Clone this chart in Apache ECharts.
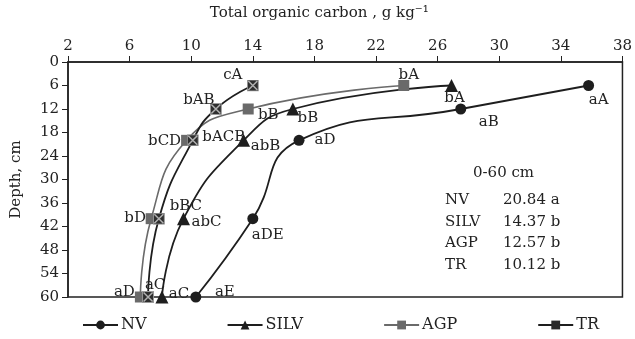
<!DOCTYPE html>
<html>
<head>
<meta charset="utf-8">
<script src="https://cdn.jsdelivr.net/npm/echarts@6/dist/echarts.min.js"></script>
<style>
html,body{margin:0;padding:0;background:#fff;}
#c{width:635px;height:339px;}
</style>
</head>
<body>
<div id="c"></div>
<script>
// ---- data ----
var depths = [6, 12, 20, 40, 60];
var seriesNames = ['NV', 'SILV', 'AGP', 'TR'];
var nvValues   = [35.8, 27.5, 17.0, 14.0, 10.3];
var silvValues = [26.9, 16.6, 13.4, 9.5, 8.1];
var agpValues  = [23.8, 13.7, 9.7, 7.4, 6.7];
var trValues   = [14.0, 11.6, 10.1, 7.9, 7.2];
var nvLabels   = ['aA', 'aB', 'aD', 'aDE', 'aE'];
var silvLabels = ['bA', 'bB', 'abB', 'abC', 'aC'];
var agpLabels  = ['bA', 'bB', 'bCD', 'bD', 'aD'];
var trLabels   = ['cA', 'bAB', 'bACB', 'bBC', 'aC'];
var xTicks = [2, 6, 10, 14, 18, 22, 26, 30, 34, 38];
var yTicks = [0, 6, 12, 18, 24, 30, 36, 42, 48, 54, 60];
var boxTitle = '0-60 cm';
var boxNames = ['NV', 'SILV', 'AGP', 'TR'];
var boxValues = ['20.84 a', '14.37 b', '12.57 b', '10.12 b'];

// ---- label placement (offsets of label centre from point, px) ----
var nvOff   = [[10, 15], [28, 13], [26, 0], [15, 16], [29, -5]];
var silvOff = [[3, 13], [15, 9], [22, 6], [23, 3], [17, -3]];
var agpOff  = [[5, -10], [20, 6], [-22, 1], [-16, -1], [-16, -5]];
var trOff   = [[-20, -10], [-17, -9], [31, -3], [27, -13], [7, -12]];

var FONT = 'DejaVu Serif';
var trSym = 'image://data:image/svg+xml;utf8,' + encodeURIComponent(
  "<svg xmlns='http://www.w3.org/2000/svg' width='24' height='24'>" +
  "<rect x='1' y='1' width='22' height='22' fill='#2e2e2e' stroke='#9a9a9a' stroke-width='2'/>" +
  "<path d='M3 3L21 21M21 3L3 21' stroke='#b0b0b0' stroke-width='3'/></svg>");

function build(vals, labels, offs, perSym) {
  return vals.map(function (v, i) {
    var o = {
      value: [v, depths[i]],
      label: {
        show: true, formatter: labels[i], position: 'inside',
        offset: offs[i], color: '#222', fontFamily: FONT, fontSize: 15
      }
    };
    if (perSym) { o.symbol = perSym; }
    return o;
  });
}

var chart = echarts.init(document.getElementById('c'), null, {renderer: 'canvas'});
var lineCommon = {type: 'line', smooth: 0.5, z: 2};
var option = {
  animation: false,
  backgroundColor: '#fff',
  textStyle: {fontFamily: FONT},
  grid: {left: 68, right: 12, top: 62, bottom: 42, show: true, borderColor: '#222', borderWidth: 1.5, backgroundColor: 'transparent'},
  xAxis: {
    type: 'value', position: 'top', min: xTicks[0], max: xTicks[xTicks.length - 1],
    interval: xTicks[1] - xTicks[0],
    name: 'Total organic carbon , g kg\u207B\u00B9', nameLocation: 'middle', nameGap: 41,
    nameTextStyle: {color: '#222', fontFamily: FONT, fontSize: 15, padding: [0, 52, 0, 0]},
    axisLine: {lineStyle: {color: '#222', width: 1.5}},
    axisTick: {show: true, length: 6, lineStyle: {color: '#222'}},
    axisLabel: {color: '#222', fontFamily: FONT, fontSize: 15, margin: 8},
    splitLine: {show: false}
  },
  yAxis: {
    type: 'value', inverse: true, min: yTicks[0], max: yTicks[yTicks.length - 1],
    interval: yTicks[1] - yTicks[0],
    name: 'Depth, cm', nameLocation: 'middle', nameGap: 44, nameRotate: 90,
    nameTextStyle: {color: '#222', fontFamily: FONT, fontSize: 15},
    axisLine: {lineStyle: {color: '#222', width: 1.5}},
    axisTick: {show: true, length: 6, lineStyle: {color: '#222'}},
    axisLabel: {color: '#222', fontFamily: FONT, fontSize: 15, margin: 9},
    splitLine: {show: false}
  },
  legend: {
    bottom: 1, left: 77, itemGap: 80, itemWidth: 35, itemHeight: 11,
    data: seriesNames,
    textStyle: {color: '#222', fontFamily: FONT, fontSize: 16, padding: [0, 0, 0, -2]}
  },
  series: [
    Object.assign({}, lineCommon, {name: 'NV', data: build(nvValues, nvLabels, nvOff),
      symbol: 'circle', symbolSize: 11, lineStyle: {color: '#1e1e1e', width: 1.8}, itemStyle: {color: '#1e1e1e'}}),
    Object.assign({}, lineCommon, {name: 'SILV', data: build(silvValues, silvLabels, silvOff),
      symbol: 'triangle', symbolSize: 13, lineStyle: {color: '#1e1e1e', width: 1.8}, itemStyle: {color: '#1e1e1e'}}),
    Object.assign({}, lineCommon, {name: 'AGP', data: build(agpValues, agpLabels, agpOff),
      symbol: 'rect', symbolSize: 11, lineStyle: {color: '#6a6a6a', width: 1.6}, itemStyle: {color: '#6a6a6a'}}),
    Object.assign({}, lineCommon, {name: 'TR', data: build(trValues, trLabels, trOff, trSym),
      symbol: 'rect', symbolSize: 12, lineStyle: {color: '#1e1e1e', width: 1.8}, itemStyle: {color: '#2a2a2a'}})
  ],
  graphic: [
    {type: 'text', left: 473, top: 166, style: {text: boxTitle, font: '15px "DejaVu Serif"', fill: '#222'}}
  ].concat(boxNames.map(function (n, i) {
    return {type: 'text', left: 445, top: 193 + i * 21.5, style: {text: n, font: '15px "DejaVu Serif"', fill: '#222'}};
  })).concat(boxValues.map(function (v, i) {
    return {type: 'text', left: 503, top: 193 + i * 21.5, style: {text: v, font: '15px "DejaVu Serif"', fill: '#222'}};
  }))
};
chart.setOption(option);
</script>
</body>
</html>
